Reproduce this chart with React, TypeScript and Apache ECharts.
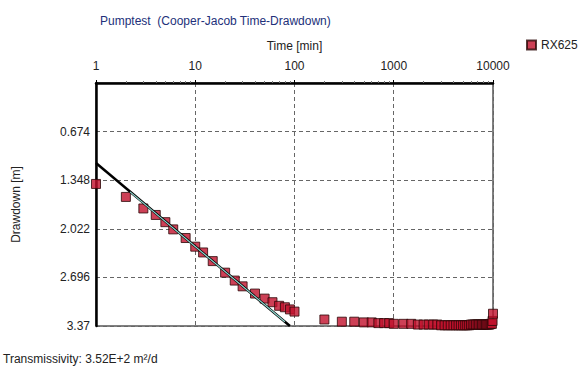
import React, { useEffect, useRef } from "react";
import * as echarts from "echarts";

const times = [
  1, 2, 3, 4, 5, 6, 8, 10, 12, 15, 20, 25, 30, 40, 50, 60, 70, 80, 90, 100,
  200, 300, 400, 500, 600, 700, 800, 900, 1000,
  1250, 1500, 1750, 2000, 2250, 2500, 2750, 3000, 3250, 3500, 3750, 4000,
  4250, 4500, 4750, 5000, 5250, 5500, 5750, 6000, 6250, 6500, 6750, 7000,
  7250, 7500, 7750, 8000, 8250, 8500, 8750, 9000, 9250, 9500, 9750, 9900, 10000,
];
const drawdowns = [
  1.40, 1.58, 1.74, 1.83, 1.93, 2.03, 2.15, 2.27, 2.35, 2.47, 2.63, 2.74, 2.82, 2.92, 2.99, 3.04, 3.09, 3.11, 3.14, 3.17,
  3.28, 3.31, 3.31, 3.32, 3.32, 3.33, 3.33, 3.33, 3.34,
  3.34, 3.34, 3.35, 3.35, 3.35, 3.35, 3.35, 3.36, 3.36, 3.36, 3.36, 3.36,
  3.36, 3.36, 3.36, 3.36, 3.36, 3.36, 3.36, 3.35, 3.35, 3.35, 3.35, 3.35,
  3.35, 3.35, 3.35, 3.35, 3.35, 3.35, 3.35, 3.35, 3.35, 3.34, 3.34, 3.30, 3.20,
];
const fitLineT = [1, 90];
const fitLineS = [1.11, 3.37];
const fitRangeT = [2.2, 80];
const fitRangeS = [1.51, 3.31];
const xTicks = [1, 10, 100, 1000, 10000];
const yMax = 3.37;
const yStep = 0.674;

const FONT = "'Liberation Sans', Arial, sans-serif";

export default function App() {
  const ref = useRef<HTMLDivElement>(null);
  useEffect(() => {
    if (!ref.current) return;
    const chart = echarts.init(ref.current, undefined, { renderer: "svg" });
    chart.setOption({
      animation: false,
      textStyle: { fontFamily: FONT },
      title: {
        text: "Pumptest  (Cooper-Jacob Time-Drawdown)",
        left: 95,
        top: 10,
        textStyle: { fontSize: 12, fontWeight: "normal", color: "#22307a", fontFamily: FONT },
      },
      legend: {
        data: ["RX625"],
        left: 521,
        top: 34,
        itemWidth: 9,
        itemHeight: 9,
        itemGap: 6,
        textStyle: { fontSize: 12, color: "#222", fontFamily: FONT },
      },
      graphic: [
        {
          type: "text",
          left: 3,
          top: 353,
          style: { text: "Transmissivity: 3.52E+2 m²/d", fontSize: 12, fill: "#222", fontFamily: FONT },
        },
      ],
      grid: {
        left: 96,
        top: 83,
        width: 397,
        height: 243,
        show: true,
        borderColor: "#000",
        borderWidth: 1,
      },
      xAxis: {
        type: "log",
        logBase: 10,
        min: xTicks[0],
        max: xTicks[xTicks.length - 1],
        position: "top",
        name: "Time [min]",
        nameLocation: "middle",
        nameGap: 31,
        nameTextStyle: { fontSize: 12, color: "#222", fontFamily: FONT },
        axisLine: { lineStyle: { color: "#000", width: 2.5 } },
        axisTick: { show: true, inside: false, length: 3, lineStyle: { color: "#000" } },
        minorTick: { show: true, splitNumber: 9, length: 2, lineStyle: { color: "#777" } },
        axisLabel: {
          fontSize: 12,
          color: "#222",
          margin: 11,
          fontFamily: FONT,
          formatter: (v: number) => String(Math.round(v)),
        },
        splitLine: { show: true, lineStyle: { color: "#666", type: [4, 3], width: 1 } },
      },
      yAxis: {
        type: "value",
        inverse: true,
        min: 0,
        max: yMax,
        interval: yStep,
        name: "Drawdown [m]",
        nameLocation: "middle",
        nameGap: 74,
        nameTextStyle: { fontSize: 12, color: "#222", fontFamily: FONT },
        axisLine: { show: true, lineStyle: { color: "#000", width: 2.5 } },
        axisTick: { show: false },
        axisLabel: {
          fontSize: 12,
          color: "#222",
          margin: 6,
          fontFamily: FONT,
          formatter: (v: number) => (v === 0 ? "" : String(parseFloat(v.toFixed(3)))),
        },
        splitLine: { show: true, lineStyle: { color: "#666", type: [4, 3], width: 1 } },
      },
      series: [
        {
          name: "RX625",
          type: "scatter",
          symbol: "rect",
          symbolSize: 9,
          itemStyle: { color: "#c0102c", borderColor: "#2a0808", borderWidth: 1 },
          data: times.map((t, i) => [t, drawdowns[i]]),
          z: 2,
        },
        {
          name: "fit",
          type: "line",
          symbol: "none",
          lineStyle: { color: "#000", width: 2.5 },
          data: fitLineT.map((t, i) => [t, fitLineS[i]]),
          z: 3,
        },
        {
          name: "fitRange",
          type: "line",
          symbol: "none",
          lineStyle: { color: "#8fd8d0", width: 1.2 },
          data: fitRangeT.map((t, i) => [t, fitRangeS[i]]),
          z: 4,
        },
      ],
    });
    return () => chart.dispose();
  }, []);
  return <div ref={ref} style={{ width: 587, height: 372, position: "absolute", left: 0, top: 0 }} />;
}
